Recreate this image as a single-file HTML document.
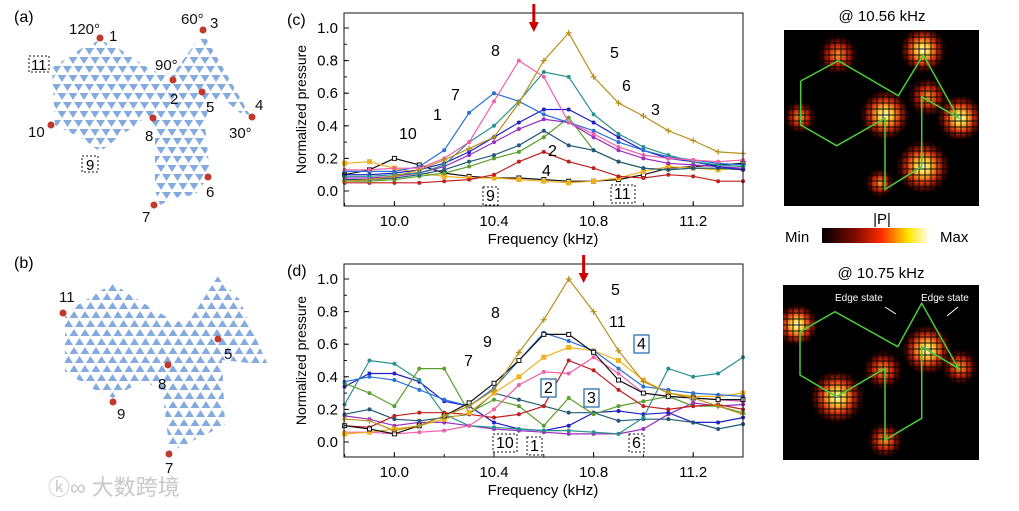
<!DOCTYPE html>
<html><head><meta charset="utf-8"><style>
body{margin:0;background:#fff;width:1019px;height:506px;overflow:hidden;font-family:"Liberation Sans","Noto Sans CJK SC",sans-serif}
svg text{font-family:"Liberation Sans","Noto Sans CJK SC",sans-serif}
</style></head><body>
<svg id="fig" width="1019" height="506" viewBox="0 0 1019 506" xmlns="http://www.w3.org/2000/svg">
<defs>
<pattern id="triDown" width="11" height="18" patternUnits="userSpaceOnUse" x="2" y="2">
<polygon points="0.5,1 9.5,1 5,8" fill="#84abe0"/><polygon points="6,10 15,10 10.5,17" fill="#84abe0"/><polygon points="-5,10 4,10 -0.5,17" fill="#84abe0"/>
</pattern>
<pattern id="triUp" width="11" height="18" patternUnits="userSpaceOnUse" x="3" y="4">
<polygon points="0.5,8 9.5,8 5,1" fill="#84abe0"/><polygon points="6,17 15,17 10.5,10" fill="#84abe0"/><polygon points="-5,17 4,17 -0.5,10" fill="#84abe0"/>
</pattern>
<radialGradient id="hot"><stop offset="0" stop-color="#ffffd0"/><stop offset="0.25" stop-color="#ffd23c"/><stop offset="0.55" stop-color="#e03a10"/><stop offset="0.85" stop-color="#5a0800" stop-opacity="0.6"/><stop offset="1" stop-color="#000" stop-opacity="0"/></radialGradient>
<radialGradient id="warm"><stop offset="0" stop-color="#ff9a2a"/><stop offset="0.5" stop-color="#b41a05"/><stop offset="1" stop-color="#000" stop-opacity="0"/></radialGradient>
<linearGradient id="cbar"><stop offset="0" stop-color="#000"/><stop offset="0.3" stop-color="#7a0a00"/><stop offset="0.55" stop-color="#ff2a00"/><stop offset="0.8" stop-color="#ffe600"/><stop offset="1" stop-color="#fff"/></linearGradient>
<clipPath id="clipTop"><rect x="784" y="30" width="195" height="176"/></clipPath>
<clipPath id="clipBot"><rect x="783" y="285" width="196" height="175"/></clipPath>
<pattern id="speck" width="6" height="6" patternUnits="userSpaceOnUse"><rect width="6" height="6" fill="#000" opacity="0"/><rect x="0" y="0" width="2" height="6" fill="#000" opacity="0.45"/><rect x="0" y="0" width="6" height="2" fill="#000" opacity="0.45"/></pattern>
</defs>

<!-- Panel a -->
<g>
<text x="14" y="22" font-size="16">(a)</text>
<polygon points="100,40 118,48 148,68 170,78 203,33 250,115 240,113 225,100 210,100 205,125 210,175 195,195 178,197 160,205 155,190 155,125 145,118 115,140 100,152 85,140 55,125 52,68 82,48" fill="url(#triDown)"/>
<g fill="#c0392b">
<circle cx="100" cy="38" r="3.5"/><circle cx="203" cy="30" r="3.5"/><circle cx="173" cy="80" r="3.5"/><circle cx="202" cy="92" r="3.5"/><circle cx="252" cy="117" r="3.5"/><circle cx="153" cy="118" r="3.5"/><circle cx="51" cy="125" r="3.5"/><circle cx="208" cy="177" r="3.5"/><circle cx="154" cy="205" r="3.5"/></g>
<g font-size="15" fill="#111">
<text x="109" y="41">1</text><text x="69" y="34">120°</text><text x="181" y="24">60°</text><text x="210" y="28">3</text>
<text x="155" y="70">90°</text><text x="170" y="104">2</text><text x="206" y="112">5</text><text x="255" y="110">4</text>
<text x="229" y="138">30°</text><text x="28" y="137">10</text><text x="145" y="141">8</text><text x="206" y="197">6</text><text x="142" y="222">7</text></g>
<rect x="29" y="56" width="20" height="16" fill="none" stroke="#111" stroke-dasharray="2,2"/><text x="31" y="70" font-size="15">11</text>
<rect x="82" y="156" width="16" height="16" fill="none" stroke="#111" stroke-dasharray="2,2"/><text x="86" y="170" font-size="15">9</text>
</g>

<!-- Panel b -->
<g>
<text x="14" y="268" font-size="16">(b)</text>
<polygon points="113,283 65,313 65,372 95,390 113,398 130,388 145,382 162,390 170,452 225,425 222,360 268,365 252,330 240,300 218,276 190,320 175,322 155,310 130,295" fill="url(#triUp)"/>
<g fill="#c0392b"><circle cx="63" cy="313" r="3.5"/><circle cx="218" cy="339" r="3.5"/><circle cx="168" cy="365" r="3.5"/><circle cx="113" cy="402" r="3.5"/><circle cx="169" cy="454" r="3.5"/></g>
<g font-size="15" fill="#111"><text x="59" y="302">11</text><text x="224" y="359">5</text><text x="158" y="389">8</text><text x="117" y="419">9</text><text x="165" y="473">7</text></g>
</g>
<text x="48" y="495" font-size="22" fill="#c8c8c8">ⓚ∞ 大数跨境</text>

<!-- Charts -->
<g id="chartC"></g>
<g id="chartD"></g>

<!-- Field maps -->
<g>
<text x="882" y="21" font-size="15" text-anchor="middle">@ 10.56 kHz</text>
<rect x="784" y="30" width="195" height="176" fill="#000"/>
<g clip-path="url(#clipTop)">
<circle cx="838" cy="55" r="22" fill="url(#warm)"/><circle cx="923" cy="50" r="24" fill="url(#hot)"/><circle cx="800" cy="117" r="18" fill="url(#warm)"/>
<circle cx="885" cy="115" r="26" fill="url(#hot)"/><circle cx="928" cy="97" r="22" fill="url(#warm)"/><circle cx="960" cy="118" r="24" fill="url(#hot)"/>
<circle cx="923" cy="167" r="28" fill="url(#hot)"/><circle cx="880" cy="183" r="16" fill="url(#warm)"/>
<rect x="784" y="30" width="195" height="176" fill="url(#speck)"/></g>
<polyline points="800.7,81 838.3,60.7 898.3,95.7 923.3,55 958.3,117.7 921.7,96.7 921.7,166.7 885,189.3 885,118.3 836.7,145.7 800.7,125 800.7,81" fill="none" stroke="#4ccc3a" stroke-width="1.5"/>
</g>
<g>
<text x="882" y="224" font-size="15" text-anchor="middle">|P|</text>
<text x="785" y="242" font-size="15">Min</text>
<rect x="822" y="228" width="108" height="15" fill="url(#cbar)"/>
<text x="940" y="242" font-size="15">Max</text>
</g>
<g>
<text x="881" y="278" font-size="15" text-anchor="middle">@ 10.75 kHz</text>
<rect x="783" y="285" width="196" height="175" fill="#000"/>
<g clip-path="url(#clipBot)">
<circle cx="797" cy="325" r="22" fill="url(#hot)"/><circle cx="837" cy="397" r="28" fill="url(#hot)"/><circle cx="883" cy="370" r="22" fill="url(#warm)"/>
<circle cx="927" cy="350" r="26" fill="url(#hot)"/><circle cx="885" cy="440" r="20" fill="url(#warm)"/><circle cx="960" cy="367" r="20" fill="url(#warm)"/>
<rect x="783" y="285" width="196" height="175" fill="url(#speck)"/></g>
<polyline points="800,331.7 835,311.7 897.7,346.7 921.7,303.3 958.3,368.3 921.7,346.7 921.7,418.3 885,440 885,368.3 836.7,396.7 800,375 800,331.7" fill="none" stroke="#4ccc3a" stroke-width="1.5"/>
<text x="835" y="301" font-size="10" fill="#fff">Edge state</text><text x="921" y="301" font-size="10" fill="#fff">Edge state</text>
<line x1="885" y1="307" x2="896" y2="314" stroke="#fff"/><line x1="958" y1="307" x2="947" y2="316" stroke="#fff"/>
</g>
</svg>
<script>
// shared frequency categories (kHz)
const freqs = [9.8,9.9,10.0,10.1,10.2,10.3,10.4,10.5,10.6,10.7,10.8,10.9,11.0,11.1,11.2,11.3,11.4];
const xTicks = [10.0,10.4,10.8,11.2];
const yTicks = [0.0,0.2,0.4,0.6,0.8,1.0];
// chart (c) series
const c5  = [.06,.07,.09,.13,.19,.26,.33,.54,.80,.97,.70,.54,.46,.37,.31,.24,.23];
const c8  = [.13,.13,.14,.14,.20,.30,.55,.80,.70,.42,.35,.27,.22,.20,.19,.18,.19];
const c6  = [.09,.09,.10,.11,.16,.30,.40,.55,.73,.70,.47,.35,.27,.22,.18,.16,.15];
const c7  = [.12,.12,.12,.15,.25,.48,.60,.55,.47,.42,.37,.30,.25,.21,.19,.17,.16];
const c10 = [.10,.10,.11,.13,.17,.24,.33,.42,.50,.50,.42,.33,.25,.20,.18,.15,.13];
const c1  = [.08,.08,.09,.11,.15,.22,.30,.38,.44,.42,.33,.25,.20,.17,.16,.15,.14];
const c2  = [.07,.07,.08,.10,.13,.18,.22,.28,.37,.28,.25,.18,.14,.13,.14,.14,.13];
const c3  = [.06,.06,.07,.09,.11,.15,.20,.24,.33,.45,.25,.18,.14,.13,.14,.14,.13];
const c4  = [.05,.05,.05,.05,.06,.07,.10,.18,.24,.18,.14,.09,.08,.10,.09,.06,.06];
const c9  = [.17,.18,.14,.11,.09,.08,.08,.07,.06,.05,.06,.08,.12,.15,.14,.13,.14];
const c11 = [.10,.13,.20,.16,.11,.09,.08,.08,.07,.06,.06,.07,.10,.14,.15,.16,.17];
// chart (d) series
const d5  = [.14,.13,.07,.10,.16,.22,.32,.55,.75,1.0,.80,.56,.37,.30,.27,.22,.17];
const d11 = [.10,.08,.05,.10,.16,.24,.36,.50,.66,.66,.55,.38,.30,.28,.27,.26,.26];
const d7  = [.37,.40,.38,.32,.26,.22,.33,.50,.67,.62,.56,.45,.34,.32,.30,.29,.28];
const d6  = [.23,.50,.48,.38,.17,.10,.09,.08,.07,.07,.06,.05,.15,.45,.40,.42,.52];
const d3  = [.36,.30,.22,.45,.45,.18,.26,.22,.10,.27,.17,.22,.25,.28,.22,.22,.18];
const d4  = [.10,.09,.16,.18,.18,.17,.15,.17,.22,.50,.44,.32,.22,.20,.22,.23,.20];
const d8  = [.06,.06,.05,.06,.07,.10,.20,.35,.43,.42,.52,.42,.30,.28,.27,.26,.25];
const d9  = [.05,.06,.08,.10,.14,.18,.30,.40,.52,.58,.56,.50,.38,.30,.28,.28,.30];
const d2  = [.17,.20,.14,.13,.15,.17,.30,.26,.22,.18,.18,.13,.14,.14,.12,.08,.11];
const d1  = [.16,.14,.10,.12,.12,.10,.08,.07,.06,.05,.05,.05,.08,.17,.24,.22,.23];
const d10 = [.34,.42,.42,.37,.25,.22,.12,.08,.07,.10,.18,.19,.17,.18,.12,.12,.15];

const NS="http://www.w3.org/2000/svg";
function mk(tag,attrs,parent){const e=document.createElementNS(NS,tag);for(const k in attrs)e.setAttribute(k,attrs[k]);parent.appendChild(e);return e;}

function drawChart(g, top, panelLabel, series, arrowF){
  const L=344,R=743,T=top,B=top+193;
  const y0=top+178, y1=top+15;
  const xs=f=>L+0.6+(f-9.8)*(R-L-0.6)/1.6;
  const ys=v=>y0-(y0-y1)*v;
  const pl=mk('text',{x:287,y:top+12,'font-size':16},g); pl.textContent=panelLabel;
  series.forEach(s=>{
    const pts=freqs.map((f,i)=>xs(f).toFixed(1)+','+ys(s.v[i]).toFixed(1)).join(' ');
    const line=mk('polyline',{points:pts,fill:'none',stroke:s.c,'stroke-width':1.2},g);
    
    
    freqs.forEach((f,i)=>{
      const x=xs(f),y=ys(s.v[i]);
      let m;
      if(s.m==='plus'){m=mk('path',{d:`M${x-3},${y}h6M${x},${y-3}v6`,stroke:s.c,'stroke-width':1.2},g);}
      else if(s.m==='sq'){m=mk('rect',{x:x-2.5,y:y-2.5,width:5,height:5,fill:s.c},g);}
      else if(s.m==='osq'){m=mk('rect',{x:x-2,y:y-2,width:4,height:4,fill:'#fff',stroke:s.c},g);}
      else {m=mk('circle',{cx:x,cy:y,r:2,fill:s.c},g);}
      
      
    });
  });
  const fr=mk('rect',{x:L,y:T,width:R-L,height:B-T,fill:'none',stroke:'#111','stroke-width':1},g);
  
  
  for(let f=9.8;f<11.41;f+=0.2){const x=xs(f);mk('line',{x1:x,x2:x,y1:B,y2:B-3,stroke:'#111'},g);}
  xTicks.forEach(f=>{const x=xs(f);mk('line',{x1:x,x2:x,y1:B,y2:B-5,stroke:'#111'},g);
    const t=mk('text',{x:x,y:B+20,'font-size':15,'text-anchor':'middle'},g);t.textContent=f.toFixed(1);
    
    });
  for(let v=0;v<=1.001;v+=0.1){const y=ys(v);mk('line',{x1:L,x2:L+3,y1:y,y2:y,stroke:'#111'},g);}
  yTicks.forEach(v=>{const y=ys(v);mk('line',{x1:L,x2:L+5,y1:y,y2:y,stroke:'#111'},g);
    const t=mk('text',{x:L-6,y:y+5,'font-size':15,'text-anchor':'end'},g);t.textContent=v.toFixed(1);
    
    });
  const xt=mk('text',{x:543,y:B+38,'font-size':15,'text-anchor':'middle'},g);xt.textContent='Frequency (kHz)';
  
  
  const yt=mk('text',{x:0,y:0,'font-size':14,'text-anchor':'middle',transform:`translate(306,${(T+B)/2}) rotate(-90)`},g);yt.textContent='Normalized pressure';
  
  
  const ax=xs(arrowF);
  const ar=mk('path',{d:`M${ax-1.5},${T-9}h3v18h3.5l-5,10l-5,-10h3.5z`,fill:'#c00'},g);
  
  
  return {xs,ys};
}
function lbl(g,x,y,t,box){
  if(box){const w=t.length*9+6;mk('rect',{x:x-3,y:y-14,width:w,height:18,fill:'#fff',stroke:box==='dash'?'#111':'#2a6fb0','stroke-dasharray':box==='dash'?'2,2':'none','stroke-width':box==='dash'?1:1.3},g);}
  const e=mk('text',{x:x,y:y,'font-size':16},g);e.textContent=t;
  
  
}
const gc=document.getElementById('chartC');
drawChart(gc,13,'(c)',[
 {n:'11',v:c11,c:'#111',m:'osq'},{n:'9',v:c9,c:'#f2b01e',m:'sq'},{n:'4',v:c4,c:'#c02020',m:'dot'},
 {n:'3',v:c3,c:'#5aa02c',m:'dot'},{n:'2',v:c2,c:'#245a78',m:'dot'},{n:'1',v:c1,c:'#9a2fc0',m:'dot'},
 {n:'10',v:c10,c:'#2020c8',m:'dot'},{n:'7',v:c7,c:'#2a6fd8',m:'dot'},{n:'6',v:c6,c:'#2a9090',m:'dot'},
 {n:'8',v:c8,c:'#f060a8',m:'dot'},{n:'5',v:c5,c:'#b8901c',m:'plus'}],10.56);
[[491,56,'8'],[610,58,'5'],[622,91,'6'],[451,100,'7'],[651,115,'3'],[433,120,'1'],[399,139,'10'],[548,156,'2'],[542,176,'4']].forEach(a=>lbl(gc,a[0],a[1],a[2]));
lbl(gc,486,201,'9','dash');lbl(gc,614,199,'11','dash');
const gd=document.getElementById('chartD');
drawChart(gd,264,'(d)',[
 {n:'1',v:d1,c:'#9a2fc0',m:'dot'},{n:'10',v:d10,c:'#2020c8',m:'dot'},{n:'2',v:d2,c:'#245a78',m:'dot'},
 {n:'6',v:d6,c:'#2a9090',m:'dot'},{n:'3',v:d3,c:'#5aa02c',m:'dot'},{n:'4',v:d4,c:'#c02020',m:'dot'},
 {n:'8',v:d8,c:'#f060a8',m:'dot'},{n:'9',v:d9,c:'#f2b01e',m:'sq'},{n:'7',v:d7,c:'#2a6fd8',m:'dot'},
 {n:'11',v:d11,c:'#111',m:'osq'},{n:'5',v:d5,c:'#b8901c',m:'plus'}],10.76);
[[611,295,'5'],[609,327,'11'],[491,318,'8'],[483,347,'9'],[464,366,'7']].forEach(a=>lbl(gd,a[0],a[1],a[2]));
lbl(gd,637,349,'4','box');lbl(gd,544,393,'2','box');lbl(gd,587,403,'3','box');
lbl(gd,496,448,'10','dash');lbl(gd,530,451,'1','dash');lbl(gd,632,448,'6','dash');
</script>
</body></html>
